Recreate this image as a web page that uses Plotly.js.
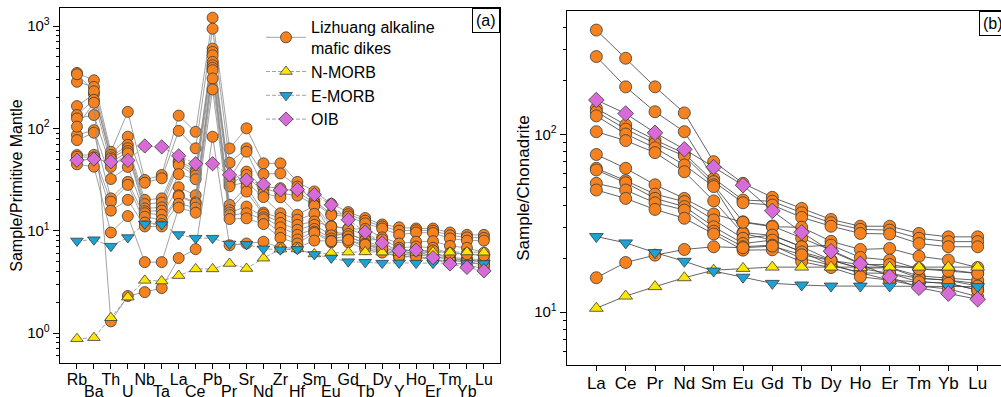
<!DOCTYPE html>
<html>
<head>
<meta charset="utf-8">
<script src="https://cdn.plot.ly/plotly-3.0.1.min.js"></script>
<style>
  html, body { margin: 0; padding: 0; overflow: hidden; background: #fff; }
  #chart { width: 1010px; height: 397px; }
</style>
</head>
<body>
<div id="chart"></div>
<script>
// Element order for the primitive-mantle spider diagram (a)
const pmElements = ['Rb','Ba','Th','U','Nb','Ta','La','Ce','Pb','Pr','Sr','Nd','Zr','Hf','Sm','Eu','Gd','Tb','Dy','Y','Ho','Er','Tm','Yb','Lu'];
// Element order for the chondrite-normalised REE diagram (b)
const reeElements = ['La','Ce','Pr','Nd','Sm','Eu','Gd','Tb','Dy','Ho','Er','Tm','Yb','Lu'];

// Reference basalts, primitive-mantle normalised
const nmorbPM = [0.88,0.90,1.41,2.24,3.27,3.22,3.64,4.23,4.23,4.78,4.27,5.39,6.61,6.63,5.92,6.07,6.17,6.20,6.17,6.15,6.16,6.19,6.16,6.19,6.15];
const emorbPM = [7.94,8.16,7.06,8.57,11.64,11.46,9.17,8.45,8.45,7.43,7.35,6.65,6.52,6.57,5.86,5.42,4.98,4.91,4.82,4.84,4.82,4.81,4.81,4.81,4.78];
const oibPM   = [48.8,50.1,47.1,48.6,67.3,65.9,53.9,45.1,45.1,35.1,31.3,28.4,25.0,25.2,22.5,17.9,12.8,9.72,7.60,6.37,6.46,5.46,4.73,4.38,4.05];

// Reference basalts, chondrite normalised
const nmorbCh = [10.5,12.3,13.9,15.6,17.2,17.6,17.9,17.9,17.9,17.8,17.9,17.9,17.9,17.9];
const emorbCh = [26.6,24.5,21.6,19.3,17.0,15.7,14.5,14.2,14.0,14.0,14.0,14.0,13.9,13.9];
const oibCh   = [156,131,102,82.4,65.4,51.7,37.1,28.1,22.0,18.7,15.8,13.7,12.7,11.8];

// Lizhuang alkaline mafic dikes, primitive-mantle normalised
const lz01PM = [348,295,59,145,31.3,35,133.2,92.5,1206,63.6,100,45.5,45.5,30,24.2,18.3,15.2,13.3,11.5,10.8,10.5,10.5,9.6,9.1,9.1];
const lz02PM = [285,254,55,83,29.4,32.5,94.5,63.8,942,46.1,63.7,35.7,36.3,27,19.5,14.7,14.5,12.5,11.0,10.0,10.1,10.0,9.0,8.6,8.5];
const lz03PM = [165,216,52,69,20,20.7,48.3,39.0,601,32.0,59.2,26.9,26,24,18.7,14.2,13.8,11.8,10.5,9.1,9.6,9.5,8.4,8.0,8.0];
const lz04PM = [338,230,50,64,18.2,18.8,46.2,36.9,558,30.6,37.8,26.0,23.2,22,17.9,11.1,10.5,9.0,7.7,6.2,6.5,6.1,5.3,5.2,5.0];
const lz05PM = [135,190,45.5,60,16.5,16.9,43.8,34.6,518,28.9,35,23.2,21.2,14.3,17.5,9.7,9.3,8.1,6.8,5.8,6.1,5.7,5.1,5.0,4.6];
const lz06PM = [125,135,42,57,15.5,15.7,35.7,31.8,446,27.1,30.1,21.3,14.8,12.8,14.6,9.6,8.8,7.5,6.3,5.5,5.7,5.2,4.8,4.7,4.2];
const lz07PM = [86,96,32,42,14.8,14.3,26.6,22.2,414,17.9,26.9,15.0,13.3,11.4,12.3,11.0,10.4,10.4,8.6,7.5,7.8,7.9,7.1,6.8,6.1];
const lz08PM = [76.8,90.6,20.7,30,13.7,12.7,22.2,18.9,390,15.9,24.1,14.4,11.9,10.2,11.4,9.0,9.3,8.1,8.2,6.8,7.0,6.8,6.0,6.0,5.7];
const lz09PM = [54.8,55,19.2,28,12,11.6,21.7,18.4,370,15.0,17.2,13.5,10.8,9.1,10.4,8.4,8.8,7.5,6.8,6.2,6.1,6.1,5.5,5.3,5.2];
const lz10PM = [52.8,52,15.7,20,11,11,18.3,16.8,307,14.2,14.8,12.9,9.5,8.2,9.8,8.0,8.2,6.9,6.3,5.9,5.7,5.7,5.3,5.2,4.8];
const lz11PM = [44.5,42.2,9.6,13.9,4.93,4.93,16.8,15.0,240,13.0,13.2,11.6,8.5,7.5,9.5,7.7,7.7,6.6,6.1,5.6,5.5,5.2,5.1,5.0,4.6];
const lz12PM = [104,178,1.3,2.3,2.51,2.75,5.4,6.6,82.8,7.2,7.5,7.8,6.8,6.8,8.0,7.9,8.1,7.3,6.7,6.5,6.4,6.4,6.0,5.9,5.7];

// Lizhuang alkaline mafic dikes, chondrite normalised REE
const lz01Ch = [386,268,185,132,70.2,53,44.2,38.3,33.2,30.4,30.4,27.7,26.5,26.5];
const lz02Ch = [274,185,134,103.5,56.5,42.7,42,36.2,31.8,29.2,28.9,26,24.9,24.9];
const lz03Ch = [140,113,93,78,54.2,41.2,40,34.1,30.4,27.7,27.5,24.3,23.3,23.3];
const lz04Ch = [134,107,89,75.5,52,32.2,30.5,26,22.3,18.8,17.8,15.5,15.1,14.5];
const lz05Ch = [127,100.4,84,67.2,50.8,28,27,23.3,19.6,17.6,16.5,14.8,14.5,13.3];
const lz06Ch = [103.5,92.2,78.9,61.6,42.2,27.7,25.4,21.8,18.4,16.6,15.1,14,13.5,12.2];
const lz07Ch = [77,64.4,52,43.6,35.6,32,30.2,30,25,22.5,22.8,20.6,19.6,17.8];
const lz08Ch = [64.4,54.9,46.1,41.8,33,26,27.1,23.3,23.8,20.3,19.6,17.5,17.3,16.5];
const lz09Ch = [63,53.4,43.6,39.2,30.2,24.3,25.4,21.8,19.6,17.6,17.8,16,15.5,15.1];
const lz10Ch = [53,48.6,41.2,37.5,28.5,23.3,23.8,20,18.4,16.6,16.5,15.5,15.1,14];
const lz11Ch = [48.6,43.6,37.8,33.7,27.5,22.3,22.4,19.2,17.8,15.8,15.1,14.8,14.5,13.3];
const lz12Ch = [15.6,19.0,20.9,22.5,23.3,23,23.5,21,19.5,18.5,18.5,17.5,17,16.5];

const dikesPM = [lz01PM,lz02PM,lz03PM,lz04PM,lz05PM,lz06PM,lz07PM,lz08PM,lz09PM,lz10PM,lz11PM,lz12PM];
const dikesCh = [lz01Ch,lz02Ch,lz03Ch,lz04Ch,lz05Ch,lz06Ch,lz07Ch,lz08Ch,lz09Ch,lz10Ch,lz11Ch,lz12Ch];

const W = 1010, H = 397;
const FONT = 'Arial, "Liberation Sans", sans-serif';
const ORANGE = '#f5821f', YELLOW = '#ffe600', CYAN = '#1ba3d6', VIOLET = '#d96bd9';
const EDGE = '#3a3a3a';

const pmIdx = pmElements.map((_, i) => i);
const reeIdx = reeElements.map((_, i) => i);

const traces = [];

// panel (a)
dikesPM.forEach((vals, k) => {
  traces.push({
    x: pmIdx, y: vals, xaxis: 'x', yaxis: 'y', mode: 'lines+markers', type: 'scatter',
    name: 'Lizhuang alkaline<br>mafic dikes', showlegend: k === 0,
    line: { color: '#8a8a8a', width: 0.8 },
    marker: { symbol: 'circle', size: 11, color: ORANGE, line: { color: EDGE, width: 0.8 } },
    hoverinfo: 'skip'
  });
});
const refStyle = [
  { name: 'N-MORB', pm: nmorbPM, ch: nmorbCh, symbol: 'triangle-up', color: YELLOW },
  { name: 'E-MORB', pm: emorbPM, ch: emorbCh, symbol: 'triangle-down', color: CYAN },
  { name: 'OIB', pm: oibPM, ch: oibCh, symbol: 'diamond', color: VIOLET }
];
refStyle.forEach(r => {
  traces.push({
    x: pmIdx, y: r.pm, xaxis: 'x', yaxis: 'y', mode: 'lines+markers', type: 'scatter',
    name: r.name, showlegend: true,
    line: { color: '#8a8a8a', width: 0.8, dash: '4px,2px' },
    marker: { symbol: r.symbol, size: 11, color: r.color, line: { color: EDGE, width: 0.8 } },
    hoverinfo: 'skip'
  });
});

// panel (b)
dikesCh.forEach(vals => {
  traces.push({
    x: reeIdx, y: vals, xaxis: 'x2', yaxis: 'y2', mode: 'lines+markers', type: 'scatter',
    showlegend: false,
    line: { color: '#3c3c3c', width: 0.8 },
    marker: { symbol: 'circle', size: 12, color: ORANGE, line: { color: EDGE, width: 0.8 } },
    hoverinfo: 'skip'
  });
});
refStyle.forEach(r => {
  traces.push({
    x: reeIdx, y: r.ch, xaxis: 'x2', yaxis: 'y2', mode: 'lines+markers', type: 'scatter',
    showlegend: false,
    line: { color: '#3c3c3c', width: 0.8 },
    marker: { symbol: r.symbol, size: 12, color: r.color, line: { color: EDGE, width: 0.8 } },
    hoverinfo: 'skip'
  });
});

const px = v => v / W;
const py = v => 1 - v / H;

const evenText = pmElements.map((e, i) => (i % 2 === 0 ? e : ''));
const annotations = [];
pmElements.forEach((e, i) => {
  if (i % 2 === 1) {
    annotations.push({
      x: i, xref: 'x', y: py(381), yref: 'paper', yanchor: 'top', xanchor: 'center',
      text: e, showarrow: false, font: { family: FONT, size: 16, color: '#000' }
    });
  }
});
annotations.push({
  x: px(500), y: py(8), xref: 'paper', yref: 'paper', xanchor: 'right', yanchor: 'top',
  text: '(a)', showarrow: false, font: { family: FONT, size: 16, color: '#000' },
  bordercolor: '#000', borderwidth: 1, borderpad: 3
});
annotations.push({
  x: px(1007), y: py(11), xref: 'paper', yref: 'paper', xanchor: 'right', yanchor: 'top',
  text: '(b)', showarrow: false, font: { family: FONT, size: 16, color: '#000' },
  bordercolor: '#000', borderwidth: 1, borderpad: 3
});

const axisCommon = {
  showgrid: false, zeroline: false, showline: true, linecolor: '#000', linewidth: 1.3,
  mirror: true, ticks: 'outside', tickcolor: '#000', tickwidth: 1, automargin: false,
  tickfont: { family: FONT, size: 16, color: '#000' }
};

const layout = {
  width: W, height: H,
  margin: { l: 0, r: 0, t: 0, b: 0 },
  paper_bgcolor: '#fff', plot_bgcolor: '#fff',
  font: { family: FONT, color: '#000' },
  showlegend: true,
  legend: {
    x: px(261), y: py(10), xanchor: 'left', yanchor: 'top',
    bgcolor: 'rgba(0,0,0,0)', borderwidth: 0,
    font: { family: FONT, size: 16, color: '#000' },
    traceorder: 'normal', itemwidth: 40
  },
  xaxis: Object.assign({}, axisCommon, {
    domain: [px(60), px(500)], range: [-1, 24.95], anchor: 'y',
    tickmode: 'array', tickvals: pmIdx, ticktext: evenText, ticklen: 5, ticklabelstandoff: -4
  }),
  yaxis: Object.assign({}, axisCommon, {
    domain: [py(363), py(8)], type: 'log', range: [-0.293, 3.176], anchor: 'x',
    tickmode: 'array', tickvals: [1, 10, 100, 1000],
    ticktext: ['10<sup>0</sup>', '10<sup>1</sup>', '10<sup>2</sup>', '10<sup>3</sup>'],
    ticklen: 6, tickfont: { family: FONT, size: 15, color: '#000' },
    minor: { ticks: 'outside', ticklen: 3, tickcolor: '#000', dtick: 'D1', showgrid: false },
    title: { text: 'Sample/Primitive Mantle', font: { family: FONT, size: 16, color: '#000' }, standoff: 0 }
  }),
  xaxis2: Object.assign({}, axisCommon, {
    domain: [px(567), px(1007)], range: [-1, 14], anchor: 'y2',
    tickmode: 'array', tickvals: reeIdx, ticktext: reeElements, ticklen: 5, ticklabelstandoff: -3,
    tickfont: { family: FONT, size: 17, color: '#000' }
  }),
  yaxis2: Object.assign({}, axisCommon, {
    domain: [py(365), py(11)], type: 'log', range: [0.702, 2.694], anchor: 'x2',
    tickmode: 'array', tickvals: [10, 100],
    ticktext: ['10<sup>1</sup>', '10<sup>2</sup>'],
    ticklen: 6, tickfont: { family: FONT, size: 15, color: '#000' },
    minor: { ticks: 'outside', ticklen: 3, tickcolor: '#000', dtick: 'D1', showgrid: false },
    title: { text: 'Sample/Chonadrite', font: { family: FONT, size: 17, color: '#000' }, standoff: 0 }
  }),
  annotations: annotations
};

Plotly.newPlot('chart', traces, layout, { displayModeBar: false, staticPlot: true });
</script>
</body>
</html>
